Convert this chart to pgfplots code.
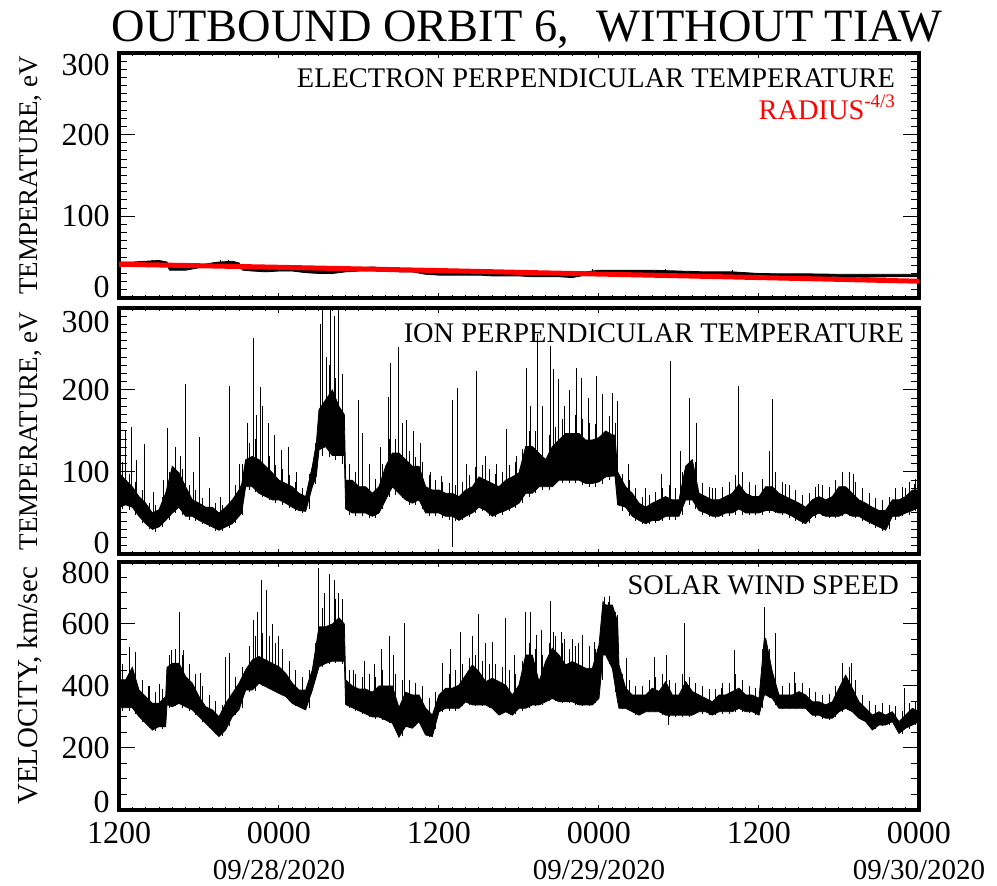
\documentclass[border=0pt]{standalone}
\usepackage{fontspec}
\setmainfont{Liberation Serif}
\usepackage{pgfplots}
\usepackage{pgfplotstable}
\pgfplotsset{compat=1.18}
\usepgfplotslibrary{fillbetween}

% electron perpendicular temperature band (hours since 09/27 12:00)
\pgfplotstableread{
t lo hi
0 40 44
1 40 44
2 41 45
3 41 46
3.6 40 44
3.8 34 38
4.5 34 38
5 34 38
6 37 40
7 39 43
7.5 39 44
8.5 40 45
9 38 43
9.3 34 37
10 33 36
11 32 36
12 33 36
13 33 36
14 31 35
15 30 34
16 30 34
17 32 36
18 33 37
19 34 38
20 33 37
21 32 36
22 32 36
23 29 33
24 28 32
25 28 32
26 28 31
27 28 31
28 27 31
29 27 30
30 27 30
31 26 29
32 26 29
33 26 29
34 25 29
35 28 32
36 30 34
38 30 34
40 30 34
42 29 33
44 29 32
46 28 32
48 27 30
50 27 29.5
52 26.5 29.5
54 26 29
56 25.5 29
58 26 29
60 26 29
}\eleband

\pgfplotstableread{
t b top
2.5 44 47
7.6 43 47
8.2 43 46
27 30 33
35.5 31 35
41 33 36
46 31 34
}\elespk

% ion perpendicular temperature band
\pgfplotstableread{
t lo hi
0 57 99
0.5 60 90
1 57 82
1.5 46 70
2 37 62
2.5 30 50
3 33 54
3.5 41 74
4 50 107
4.5 57 99
5 46 82
5.5 46 66
6 41 62
6.5 37 57
7 33 57
7.5 29 50
8 33 57
8.5 37 66
9 46 78
9.2 50 85
9.5 82 115
10 82 119
10.5 74 115
11 70 107
11.5 66 99
12 66 90
12.5 62 86
13 57 82
13.5 53 74
14 52 70
14.5 82 107
14.8 95 135
15 127 176
15.5 131 188
16 120 200
16.5 120 180
16.9 120 170
17 55 90
17.5 50 90
18 50 82
18.5 50 82
19 46 74
19.5 50 82
20 66 107
20.5 82 123
21 74 123
21.5 66 115
22 62 107
22.5 66 107
23 50 82
23.5 50 78
24 50 78
24.5 46 74
25 46 74
25.5 41 70
26 46 78
26.5 50 82
27 57 94
27.5 53 90
28 46 86
28.5 50 82
29 53 90
29.5 57 94
30 62 99
30.5 74 131
31 74 131
31.5 82 123
32 82 115
32.5 82 131
33 90 139
33.5 90 147
34 90 147
34.5 90 147
35 86 139
35.5 86 139
36 88 142
36.5 94 150
37 95 145
37.2 95 145
37.4 60 100
38 57 82
38.5 46 74
39 41 62
39.5 37 57
40 41 62
40.5 41 66
41 46 70
41.5 46 66
42 46 66
42.5 66 107
43 66 115
43.5 53 74
44 50 70
44.5 46 66
45 46 66
45.5 50 70
46 50 74
46.5 55 85
47 50 74
47.5 50 70
48 50 70
48.5 53 82
49 53 82
49.5 50 74
50 50 70
50.5 46 66
51 41 62
51.5 37 57
52 46 66
52.5 50 70
53 46 66
53.5 46 70
54 46 82
54.5 50 82
55 46 74
55.5 46 66
56 41 62
56.5 37 57
57 33 53
57.5 29 53
58 46 66
58.5 46 66
59 50 70
59.5 53 78
60 57 78
}\ionband

% short hairs of the ion record (t, low end, high end)
\pgfplotstableread{
t b top
0.25 55 112
0.75 54 98
1.25 48 88
1.75 38 78
2.25 30 62
2.75 27 60
3.25 33 70
3.75 42 100
4.25 50 118
4.75 48 104
5.25 42 84
5.75 40 78
6.25 36 68
6.75 33 66
7.25 28 62
7.75 28 60
8.25 32 70
8.75 38 84
9.25 48 110
9.75 78 135
10.25 75 140
10.75 70 128
11.25 66 120
11.75 62 108
12.25 60 104
12.75 56 96
13.25 52 88
13.75 50 80
14.25 55 98
14.75 85 135
15.25 120 210
15.75 118 230
16.25 115 215
16.75 110 200
17.25 48 110
17.75 46 100
18.25 46 96
18.75 44 90
19.25 44 92
19.75 55 110
20.25 70 140
20.75 72 140
21.25 68 132
21.75 60 125
22.25 60 118
22.75 55 112
23.25 46 96
23.75 46 90
24.25 44 88
24.75 42 86
25.25 40 84
25.75 42 88
26.25 45 96
26.75 50 106
27.25 52 108
27.75 46 104
28.25 45 98
28.75 48 100
29.25 52 108
29.75 56 112
30.25 62 128
30.75 70 150
31.25 74 150
31.75 78 140
32.25 78 145
32.75 85 155
33.25 86 165
33.75 86 168
34.25 86 170
34.75 84 165
35.25 82 160
35.75 82 158
36.25 85 165
36.75 90 168
37.25 88 160
37.75 52 98
38.25 46 90
38.75 40 80
39.25 36 70
39.75 36 72
40.25 38 76
40.75 40 80
41.25 42 84
41.75 42 80
42.25 48 100
42.75 60 125
43.25 55 112
43.75 48 86
44.25 45 82
44.75 44 80
45.25 45 82
45.75 46 88
46.25 48 96
46.75 48 100
47.25 47 88
47.75 47 84
48.25 48 92
48.75 50 104
49.25 50 100
49.75 47 88
50.25 44 84
50.75 40 78
51.25 36 72
51.75 38 74
52.25 44 82
52.75 46 84
53.25 44 82
53.75 44 90
54.25 46 100
54.75 46 100
55.25 44 88
55.75 40 80
56.25 36 74
56.75 32 68
57.25 28 66
57.75 30 70
58.25 42 80
58.75 46 82
59.25 48 88
59.75 52 92
}\ionhair

\pgfplotstableread{
t b top
0.1 80 155
0.5 70 150
0.9 70 155
1.3 60 115
1.9 50 134
2.6 40 75
3.3 45 90
3.6 60 154
4.2 70 131
4.6 70 120
5.0 60 207
5.6 50 100
6.0 50 143
6.8 45 80
7.6 40 70
8.3 45 205
9.0 60 110
9.6 95 160
10.1 100 264
10.3 100 170
10.6 100 204
10.8 95 180
11.2 90 160
11.7 85 145
12.2 80 127
12.7 75 130
13.3 65 100
15.1 150 280
15.3 150 315
15.6 150 240
15.9 150 315
16.2 150 290
16.5 150 315
16.8 140 220
17.95 65 188
18.3 60 147
18.8 60 110
19.6 70 130
20.2 90 192
20.35 90 233
20.95 90 252
21.3 90 160
21.6 90 164
22.1 80 150
22.6 80 135
23.4 60 100
24.2 60 95
25.0 9 188
25.4 55 203
26.1 60 110
26.8 65 223
27.5 65 120
28.3 60 110
29.1 70 152
29.8 70 120
30.6 100 227
30.9 100 180
31.4 100 268
31.8 100 180
32.4 100 254
32.6 100 225
33.0 110 213
33.4 110 180
33.8 110 200
34.3 110 227
34.7 110 215
35.2 110 190
35.8 110 217
36.3 110 195
37.0 110 196
37.4 80 186
38.2 65 110
39.5 50 80
40.7 55 98
41.4 50 235
42.1 55 125
42.8 80 190
43.3 80 160
44.5 55 80
46.5 70 205
47.3 55 85
48.8 60 125
49.0 60 189
50.0 55 85
52.5 55 85
54.3 60 98
54.8 60 95
55.1 60 98
57.8 40 60
59.0 55 80
59.7 60 85
}\ionspk

% solar wind speed band
\pgfplotstableread{
t lo hi
0 330 420
0.5 330 420
1 330 460
1.5 301 387
2 280 366
2.5 258 344
3 269 344
3.5 269 366
3.6 340 460
4 333 473
4.5 344 473
5 333 430
5.5 323 409
6 301 366
6.5 280 333
7 258 323
7.5 237 301
8 258 344
8.5 301 376
9 323 409
9.5 387 452
10 387 484
10.5 409 495
11 398 484
11.5 387 473
12 376 462
12.5 366 441
13 344 409
13.5 333 387
14 323 387
14.5 387 452
15 462 591
15.5 473 591
16 480 600
16.5 480 620
16.9 480 600
17.0 340 420
17.5 330 400
18 320 390
18.5 310 390
19 300 380
19.5 300 400
20 290 400
20.5 280 400
21 235 330
21.5 270 380
22 264 371
22.5 285 371
23 242 328
23.5 237 306
24 317 371
24.5 328 393
25 328 393
25.5 328 403
26 349 435
26.5 339 468
27 339 446
27.5 339 414
28 328 425
28.5 306 414
29 317 403
29.5 306 371
30 328 403
30.5 328 500
31 339 500
31.5 339 414
32 349 479
32.5 360 522
33 349 500
33.5 349 468
34 349 479
34.5 339 468
35 339 457
35.5 339 457
36 360 532
36.3 500 672
36.5 500 661
37 457 661
37.4 349 607
37.5 328 468
38 328 393
38.5 317 371
39 306 371
39.5 317 371
40 317 393
40.5 317 382
41 306 414
41.5 306 371
42 306 371
42.5 306 414
43 306 382
43.5 317 371
44 317 360
44.5 306 349
45 317 371
45.5 317 371
46 317 382
46.5 328 393
47 317 371
47.5 317 371
48 306 360
48.4 371 554
48.5 371 554
49 360 446
49.5 328 371
50 328 371
50.5 328 371
51 328 382
51.5 328 371
52 306 349
52.5 306 349
53 296 339
53.5 296 349
54 317 393
54.5 328 435
55 317 393
55.5 296 349
56 285 328
56.5 258 306
57 274 317
57.5 274 306
58 285 317
58.5 247 285
59 264 306
59.5 274 328
60 285 317
}\velband

% short hairs of the speed record
\pgfplotstableread{
t b top
0.25 320 470
0.75 320 500
1.25 310 470
1.75 285 420
2.25 265 400
2.75 255 380
3.25 262 390
3.75 330 500
4.25 335 520
4.75 330 500
5.25 320 470
5.75 305 440
6.25 285 400
6.75 265 370
7.25 245 350
7.75 240 340
8.25 270 400
8.75 305 430
9.25 330 460
9.75 380 530
10.25 385 560
10.75 400 570
11.25 390 560
11.75 380 540
12.25 370 520
12.75 350 480
13.25 335 450
13.75 325 430
14.25 330 450
14.75 420 540
15.25 460 650
15.75 470 660
16.25 475 680
16.75 470 650
17.25 330 450
17.75 320 440
18.25 310 430
18.75 300 440
19.25 295 430
19.75 290 450
20.25 280 460
20.75 260 440
21.25 240 420
21.75 265 420
22.25 270 410
22.75 260 400
23.25 235 360
23.75 260 380
24.25 315 420
24.75 320 440
25.25 320 450
25.75 335 470
26.25 340 490
26.75 335 500
27.25 335 480
27.75 330 470
28.25 320 470
28.75 310 460
29.25 310 450
29.75 310 440
30.25 320 480
30.75 330 540
31.25 335 520
31.75 340 500
32.25 350 540
32.75 350 560
33.25 345 540
33.75 345 520
34.25 340 530
34.75 335 520
35.25 335 500
35.75 345 520
36.25 420 650
36.75 470 690
37.25 380 640
37.75 325 440
38.25 320 420
38.75 305 400
39.25 310 400
39.75 315 420
40.25 315 430
40.75 305 440
41.25 300 420
41.75 300 410
42.25 300 440
42.75 300 430
43.25 310 410
43.75 310 400
44.25 305 390
44.75 305 390
45.25 310 410
45.75 310 410
46.25 315 440
46.75 315 420
47.25 312 400
47.75 305 395
48.25 330 520
48.75 360 520
49.25 340 460
49.75 325 400
50.25 325 410
50.75 325 410
51.25 325 410
51.75 315 395
52.25 300 380
52.75 295 370
53.25 290 375
53.75 300 400
54.25 315 450
54.75 320 460
55.25 305 420
55.75 290 370
56.25 270 350
56.75 260 340
57.25 270 345
57.75 275 340
58.25 265 335
58.75 245 320
59.25 260 345
59.75 275 350
}\velhair

\pgfplotstableread{
t b top
0.1 400 500
0.8 400 527
1.2 380 510
2.2 320 400
3.0 300 408
3.9 420 516
4.5 420 640
4.8 400 516
6.1 340 441
8.0 300 495
8.3 320 505
10.1 420 613
10.4 430 640
10.7 440 742
11.1 430 710
11.5 420 600
12.0 400 560
15.0 500 780
15.4 500 700
15.8 520 760
16.2 500 742
16.5 500 700
16.8 500 680
17.6 360 450
18.4 350 480
19.2 340 470
19.7 340 520
20.3 330 560
20.6 330 500
21.45 300 602
22.8 300 392
24.3 350 473
24.9 350 518
25.65 350 573
26.5 360 560
27.0 360 631
27.5 350 540
28.0 350 543
28.98 350 618
29.7 340 500
30.5 400 640
30.9 400 640
31.3 380 564
31.7 380 580
32.4 380 673
32.6 380 575
33.2 380 574
33.4 380 550
34.0 380 550
34.5 370 540
34.8 370 564
35.3 370 530
35.65 370 543
36.4 550 688
36.75 500 672
37.1 450 640
37.4 450 629
38.1 350 490
40.2 340 495
41.1 340 500
41.2 274 340
42.4 340 602
45.2 330 392
46.2 340 516
48.4 400 656
49.25 380 570
50.7 350 445
54.3 340 473
54.95 340 473
58.9 290 392
}\velspk

\pgfplotsset{
  panel/.style={
    scale only axis, width=400pt,
    anchor=north west,
    xmin=0, xmax=60, xtick={0,12,...,60}, minor x tick num=11,
    axis line style={line width=2pt},
    tick style={black, line width=0.5pt},
    xtick style={/pgfplots/major tick length=2.5pt,/pgfplots/minor tick length=1.3pt},
    ytick style={/pgfplots/major tick length=8pt,/pgfplots/minor tick length=4pt},
    tick align=inside,
    ticklabel style={font=\fontsize{16}{18}\selectfont, inner sep=0pt},
    yticklabel style={xshift=-4.5pt},
    xticklabel style={yshift=-6pt},
    /pgf/number format/assume math mode=true,
    clip=true,
  },
  band/.style={draw=black, line width=0.4pt, mark=none},
  spikes/.style={draw=none, mark=none, forget plot,
    error bars/.cd, y dir=plus, y explicit, error mark=none,
    error bar style={draw=black, line width=0.5pt}},
  hairs/.style={draw=none, mark=none, forget plot,
    error bars/.cd, y dir=plus, y explicit, error mark=none,
    error bar style={draw=black, line width=0.45pt}},
}

\begin{document}
\begin{tikzpicture}

\node[anchor=base, font=\fontsize{23.2}{27}\selectfont] at (263.5pt,-21pt)
  {OUTBOUND ORBIT 6,\hspace{0.6em}WITHOUT TIAW};

\node[rotate=90, anchor=base, font=\fontsize{13.5}{16}\selectfont] at (18.5pt,-87.75pt) {TEMPERATURE, eV};
\node[rotate=90, anchor=base, font=\fontsize{13.5}{16}\selectfont] at (18.5pt,-215.5pt) {TEMPERATURE, eV};
\node[rotate=90, anchor=base, font=\fontsize{14.5}{17}\selectfont] at (18.5pt,-343pt) {VELOCITY, km/sec};

% Panel 1: electron temperature
\begin{axis}[panel, at={(59.5pt,-26.5pt)}, height=122.5pt,
  ymin=0, ymax=300, ytick={0,100,200,300}, minor y tick num=9,
  yticklabels={\raisebox{5.5pt}[\height][\depth]{0},100,200,\raisebox{-6pt}[\height][\depth]{300}},
  xticklabels={}]
  \addplot[band, name path=eh] table[x=t, y=hi] {\eleband};
  \addplot[band, name path=el] table[x=t, y=lo] {\eleband};
  \addplot[black] fill between[of=eh and el];
  \addplot[spikes] table[x=t, y=b, y error plus expr=\thisrow{top}-\thisrow{b}] {\elespk};
  \addplot[red, line width=2.5pt, mark=none] coordinates {
    (0,41.3) (6,39.5) (12,37.6) (18,35.6) (24,33.6) (30,31.4)
    (36,29.3) (42,27.2) (48,25.0) (54,22.8) (60,20.5)};
  \node[anchor=base east, xshift=-8.5pt, yshift=-17.5pt, font=\fontsize{14.2}{17}\selectfont]
    at (rel axis cs:1,1) {ELECTRON PERPENDICULAR TEMPERATURE};
  \node[anchor=base east, xshift=-8.5pt, yshift=-33.5pt, text=red, font=\fontsize{14.2}{17}\selectfont]
    at (rel axis cs:1,1) {RADIUS{\fontsize{9.5}{11}\selectfont\raisebox{6pt}{-4/3}}};
\end{axis}

% Panel 2: ion temperature
\begin{axis}[panel, at={(59.5pt,-154pt)}, height=123pt,
  ymin=0, ymax=300, ytick={0,100,200,300}, minor y tick num=9,
  yticklabels={\raisebox{5.5pt}[\height][\depth]{0},100,200,\raisebox{-7pt}[\height][\depth]{300}},
  xticklabels={}]
  \addplot[band, name path=ih] table[x=t, y=hi] {\ionband};
  \addplot[band, name path=il] table[x=t, y=lo] {\ionband};
  \addplot[black] fill between[of=ih and il];
  \addplot[hairs] table[x=t, y=b, y error plus expr=\thisrow{top}-\thisrow{b}] {\ionhair};
  \addplot[spikes] table[x=t, y=b, y error plus expr=\thisrow{top}-\thisrow{b}] {\ionspk};
  \node[anchor=base east, xshift=-4pt, yshift=-17.5pt, font=\fontsize{14.2}{17}\selectfont]
    at (rel axis cs:1,1) {ION PERPENDICULAR TEMPERATURE};
\end{axis}

% Panel 3: solar wind speed
\begin{axis}[panel, at={(59.5pt,-281pt)}, height=124pt,
  ymin=0, ymax=800, ytick={0,200,400,600,800}, minor y tick num=3,
  yticklabels={\raisebox{4pt}[\height][\depth]{0},200,400,600,\raisebox{-5.5pt}[\height][\depth]{800}},
  xticklabels={1200,{0000\\\fontsize{14.5}{18}\selectfont 09/28/2020},1200,{0000\\\fontsize{14.5}{18}\selectfont 09/29/2020},1200,{0000\\\fontsize{14.5}{18}\selectfont 09/30/2020}},
  xticklabel style={align=center}]
  \addplot[band, name path=vh] table[x=t, y=hi] {\velband};
  \addplot[band, name path=vl] table[x=t, y=lo] {\velband};
  \addplot[black] fill between[of=vh and vl];
  \addplot[hairs] table[x=t, y=b, y error plus expr=\thisrow{top}-\thisrow{b}] {\velhair};
  \addplot[spikes] table[x=t, y=b, y error plus expr=\thisrow{top}-\thisrow{b}] {\velspk};
  \node[anchor=base east, xshift=-6.5pt, yshift=-16.5pt, font=\fontsize{14.2}{17}\selectfont]
    at (rel axis cs:1,1) {SOLAR WIND SPEED};
\end{axis}

\pgfresetboundingbox
\useasboundingbox (0,0) rectangle (498.5pt,-443pt);
\end{tikzpicture}
\end{document}
